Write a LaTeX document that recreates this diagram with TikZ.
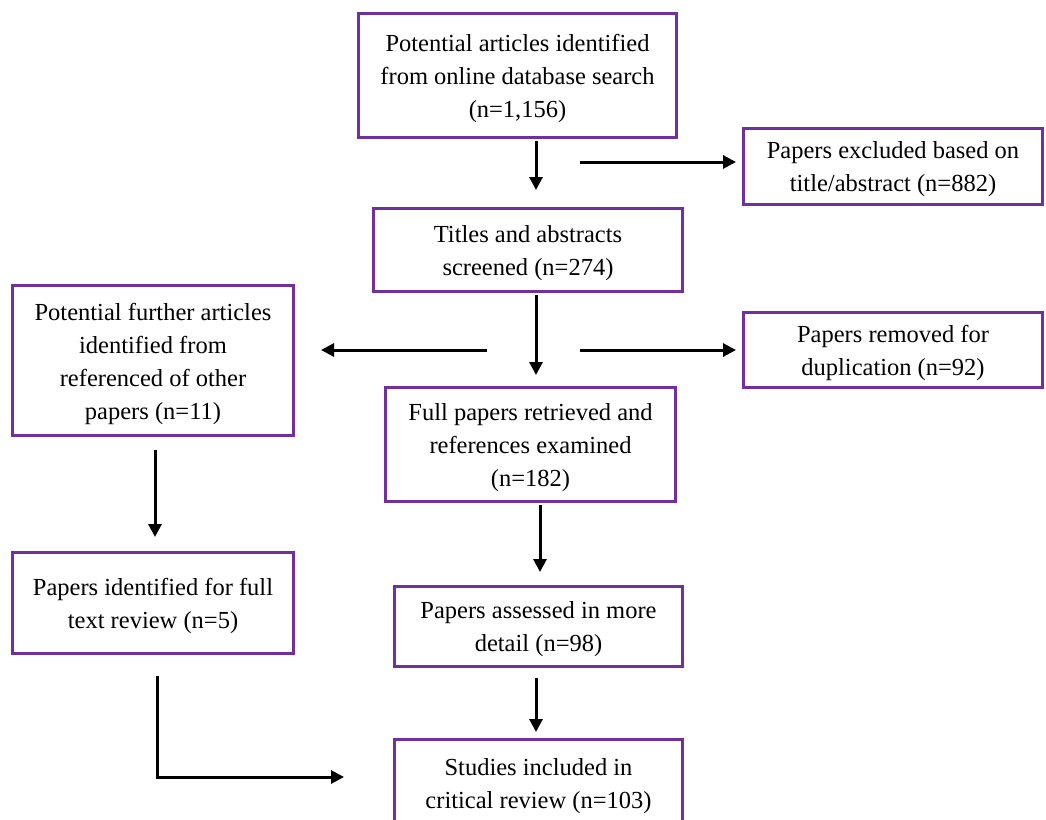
\documentclass[tikz,border=0pt]{standalone}
\usepackage{fontspec}
\setmainfont{Liberation Serif}
\usetikzlibrary{arrows.meta}
\definecolor{boxpurple}{HTML}{7030A0}
% box frame plus its centred caption, set slightly below the middle
\newcommand{\stagebox}[5]{%
  \node[frame, minimum width=#3, minimum height=#4] (#1) at #2 {};
  \node[caption] (#1-text) at ([yshift=-3pt]#1.center) {#5};}
\begin{document}
\begin{tikzpicture}[x=1pt,y=-1pt,
  frame/.style={draw=boxpurple, line width=3pt, fill=white, inner sep=0pt},
  caption/.style={align=center, inner sep=0pt,
    font=\fontsize{24.5}{33}\selectfont, text=black},
  flow/.style={line width=3pt, -{Triangle[length=13pt,width=13pt]}}]
\path[use as bounding box, fill=white] (0,0) rectangle (1046,819);
\clip (0,0) rectangle (1046,819);

% main column
\stagebox{found}{(517.5,75.5)}{318pt}{124pt}
  {Potential articles identified\\from online database search\\(n=1,156)}
\stagebox{screen}{(528,250)}{309pt}{83pt}
  {Titles and abstracts\\screened (n=274)}
\stagebox{full}{(530.5,444.5)}{290pt}{114pt}
  {Full papers retrieved and\\references examined\\(n=182)}
\stagebox{assess}{(538.5,626.5)}{288pt}{80pt}
  {Papers assessed in more\\detail (n=98)}
\stagebox{incl}{(538.5,783)}{288pt}{87pt}
  {Studies included in\\critical review (n=103)}

% exclusions on the right
\stagebox{excl}{(893,166.5)}{299pt}{76pt}
  {Papers excluded based on\\title/abstract (n=882)}
\stagebox{dup}{(893,350)}{299pt}{75pt}
  {Papers removed for\\duplication (n=92)}

% additional sources on the left
\stagebox{further}{(153,360.5)}{281pt}{150pt}
  {Potential further articles\\identified from\\referenced of other\\papers (n=11)}
\stagebox{fulltext}{(153,603)}{281pt}{101pt}
  {Papers identified for full\\text review (n=5)}

% connector end points
\coordinate (c1a) at (536,141);  \coordinate (c1b) at (536,190);
\coordinate (c2a) at (580,162);  \coordinate (c2b) at (736,162);
\coordinate (c3a) at (536,295);  \coordinate (c3b) at (536,375);
\coordinate (c4a) at (580,350);  \coordinate (c4b) at (736,350);
\coordinate (c5a) at (487,350);  \coordinate (c5b) at (321,350);
\coordinate (c6a) at (155,450);  \coordinate (c6b) at (155,537);
\coordinate (c7a) at (540,505);  \coordinate (c7b) at (540,572);
\coordinate (c8a) at (536,678);  \coordinate (c8b) at (536,732);
\coordinate (c9a) at (157,676);  \coordinate (c9b) at (344,777);

\draw[flow] (c1a) -- (c1b);
\draw[flow] (c2a) -- (c2b);
\draw[flow] (c3a) -- (c3b);
\draw[flow] (c4a) -- (c4b);
\draw[flow] (c5a) -- (c5b);
\draw[flow] (c6a) -- (c6b);
\draw[flow] (c7a) -- (c7b);
\draw[flow] (c8a) -- (c8b);
\draw[flow] (c9a) |- (c9b);
\end{tikzpicture}
\end{document}
